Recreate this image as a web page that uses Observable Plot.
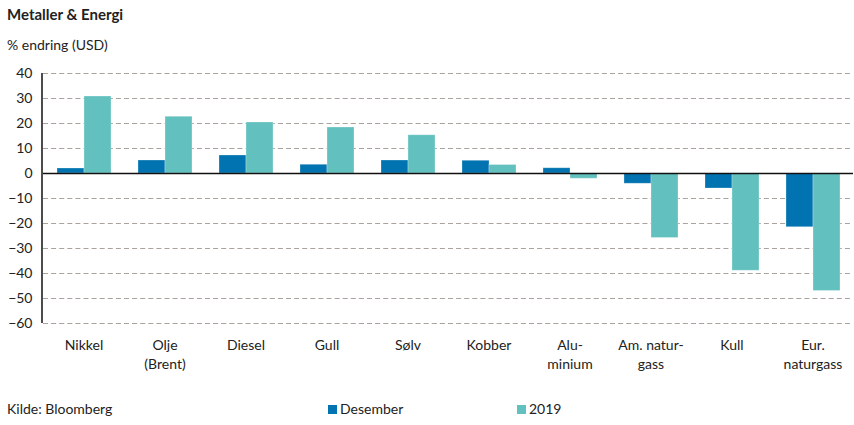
<!DOCTYPE html>
<html>
<head>
<meta charset="utf-8">
<script src="https://cdn.jsdelivr.net/npm/d3@7"></script>
<script src="https://cdn.jsdelivr.net/npm/@observablehq/plot@0.6"></script>
<style>
  body { margin: 0; background: #fff; font-family: Lato, "Open Sans", sans-serif; }
  #wrap { position: relative; width: 854px; height: 425px; overflow: hidden; }
  #title { position: absolute; left: 7px; top: 5px; font-size: 15px; font-weight: bold; color: #222; }
  #sub { position: absolute; left: 7px; top: 36px; font-size: 14px; color: #222; }
  #chart { position: absolute; left: 0; top: 60px; }
  #legend { position: absolute; left: 0; top: 400px; width: 854px; font-size: 14px; color: #222; }
  .li { position: absolute; top: 0; white-space: nowrap; }
  .sw { display: inline-block; width: 9px; height: 9px; margin-right: 3px; vertical-align: 0px; }
</style>
</head>
<body>
<div id="wrap">
  <div id="title">Metaller &amp; Energi</div>
  <div id="sub">% endring (USD)</div>
  <div id="chart"></div>
  <div id="legend">
    <span class="li" style="left:7px">Kilde: Bloomberg</span>
    <span class="li" style="left:328px"><span class="sw" style="background:#0073b0"></span>Desember</span>
    <span class="li" style="left:517px"><span class="sw" style="background:#62c1bf"></span>2019</span>
  </div>
</div>
<script>
const categories = ["Nikkel", "Olje (Brent)", "Diesel", "Gull", "Sølv", "Kobber", "Aluminium", "Am. naturgass", "Kull", "Eur. naturgass"];
const categoryLabels = ["Nikkel", "Olje\n(Brent)", "Diesel", "Gull", "Sølv", "Kobber", "Alu-\nminium", "Am. natur-\ngass", "Kull", "Eur.\nnaturgass"];
const series = ["Desember", "2019"];
const desember = [2.0, 5.2, 7.2, 3.5, 5.2, 5.1, 2.1, -4.1, -6.0, -21.5];
const year2019 = [30.8, 22.7, 20.4, 18.4, 15.3, 3.4, -2.1, -25.8, -38.9, -47.0];
const yTicks = [40, 30, 20, 10, 0, -10, -20, -30, -40, -50, -60];
const colors = ["#0073b0", "#62c1bf"];

const rows = [];
categories.forEach((c, i) => {
  rows.push({category: c, series: series[0], value: desember[i]});
  rows.push({category: c, series: series[1], value: year2019[i]});
});
const labelOf = new Map(categories.map((c, i) => [c, categoryLabels[i]]));
const gridTicks = yTicks.filter(d => d !== 0);

const marginLeft = 42;
const chart = Plot.plot({
  width: 854,
  height: 313,
  marginTop: 13,
  marginBottom: 50,
  marginLeft: marginLeft,
  marginRight: 0,
  style: {fontFamily: "Lato, 'Open Sans', sans-serif", fontSize: "14px", color: "#222", background: "transparent"},
  fx: {domain: categories, padding: 0, label: null},
  x: {domain: series, axis: null, paddingInner: 0, paddingOuter: 0.5},
  y: {domain: [-60, 40], label: null},
  color: {domain: series, range: colors},
  facet: {data: rows, x: "category", marginBottom: 50},
  marks: [
    Plot.ruleY(gridTicks, {stroke: "#aaa29d", strokeWidth: 1.2, strokeDasharray: "5,3.1"}),
    Plot.barY(rows, {x: "series", y: "value", fill: "series", stroke: "#ffffff", strokeOpacity: 0.35, strokeWidth: 0.8}),
    Plot.ruleY([0], {stroke: "#111", strokeWidth: 1.5}),
    Plot.axisY({ticks: yTicks, tickSize: 0, tickPadding: 11, label: null, fontSize: 14}),
    Plot.axisFx({anchor: "bottom", tickSize: 0, tickPadding: 14, lineHeight: 1.3, label: null, fontSize: 14, tickFormat: d => labelOf.get(d)})
  ]
});
// left axis line, positioned with the chart's own y scale
const ys = chart.scale("y");
d3.select(chart).append("line")
  .attr("x1", marginLeft).attr("x2", marginLeft)
  .attr("y1", ys.apply(d3.max(yTicks))).attr("y2", ys.apply(d3.min(yTicks)))
  .attr("stroke", "#111").attr("stroke-width", 1.5);
document.getElementById("chart").appendChild(chart);
</script>
</body>
</html>
